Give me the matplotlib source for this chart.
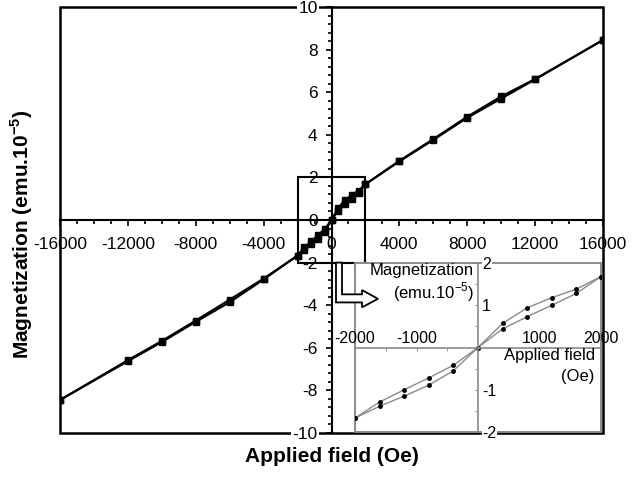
import matplotlib
matplotlib.use("Agg")
import matplotlib.pyplot as plt
import matplotlib.ticker as mticker
from matplotlib.patches import Rectangle, Polygon

plt.rcParams['font.family'] = ['Liberation Sans', 'DejaVu Sans']
plt.rcParams['mathtext.fontset'] = 'custom'
plt.rcParams['mathtext.rm'] = 'Liberation Sans'
plt.rcParams['mathtext.bf'] = 'Liberation Sans:bold'

# champ appliqué (Oe) et aimantation (emu.10^-5)
field_neg = [-16000, -12000, -10000, -8000, -6000, -4000]
field_pos = [4000, 6000, 8000, 10000, 12000, 16000]
field_low = [-2000, -1600, -1200, -800, -400, 0, 400, 800, 1200, 1600, 2000]

m_neg_up = [-8.45, -6.58, -5.68, -4.72, -3.74, -2.75]
m_neg_down = [-8.45, -6.63, -5.73, -4.78, -3.86, -2.79]
m_pos_up = [2.78, 3.80, 4.85, 5.80, 6.62, 8.45]
m_pos_down = [2.75, 3.76, 4.80, 5.70, 6.60, 8.45]

m_low_up = [-1.67, -1.29, -1.00, -0.72, -0.42, 0.0, 0.57, 0.94, 1.18, 1.38, 1.68]
m_low_down = [-1.67, -1.39, -1.15, -0.89, -0.55, 0.0, 0.44, 0.73, 1.00, 1.28, 1.68]

xticks_main = list(range(-16000, 16001, 4000))
yticks_main = list(range(-10, 11, 2))
xticks_in = [-2000, -1000, 1000, 2000]
yticks_in = [-2, -1, 1, 2]

fig = plt.figure(figsize=(6.33, 4.79), dpi=100)
W, H = 633, 479

# axes principal
ax = fig.add_axes([60 / W, 1 - 433 / H, 543 / W, 426 / H])
ax.plot(field_neg + field_low + field_pos, m_neg_up + m_low_up + m_pos_up,
        color='black', lw=1.5, marker='s', ms=4.5, zorder=3)
ax.plot(field_neg + field_low + field_pos, m_neg_down + m_low_down + m_pos_down,
        color='black', lw=1.5, marker='s', ms=4.5, zorder=3)
ax.set_xlim(-16000, 16000)
ax.set_ylim(-10, 10)

ax.spines['left'].set_position(('data', 0))
ax.spines['bottom'].set_position(('data', 0))
ax.spines['top'].set_visible(False)
ax.spines['right'].set_visible(False)
for s in ['left', 'bottom']:
    ax.spines[s].set_linewidth(1.5)
ax.add_patch(Rectangle((0, 0), 1, 1, transform=ax.transAxes, fill=False,
                       lw=1.8, color='black', clip_on=False, zorder=1))

ax.set_xticks(xticks_main)
ax.set_xticklabels([str(v) for v in xticks_main])
ax.xaxis.set_minor_locator(mticker.MultipleLocator(1000))
ax.set_yticks(yticks_main)
ax.set_yticklabels([str(v) for v in yticks_main])
ax.yaxis.set_minor_locator(mticker.MultipleLocator(0.4))
ax.tick_params(axis='x', which='major', direction='out', length=4, width=1.2,
               pad=8, labelsize=12.5)
ax.tick_params(axis='x', which='minor', direction='out', length=3, width=1.2)
ax.tick_params(axis='y', which='major', direction='out', length=4, width=1.2,
               pad=6, labelsize=12.5)
ax.tick_params(axis='y', which='minor', direction='out', length=3, width=1.2)
for lbl in ax.get_yticklabels():
    if lbl.get_text() in ('10', '-10'):
        lbl.set_bbox(dict(facecolor='white', edgecolor='none', pad=1))

# cadre de zoom
ax.add_patch(Rectangle((field_low[0], -2), field_low[-1] - field_low[0], 4,
                       fill=False, lw=1.5, color='black', zorder=2))

fig.text(22 / W, 1 - 234 / H, 'Magnetization (emu.10$^{\\mathbf{-5}}$)',
         rotation=90, ha='center', va='center', fontsize=15, fontweight='bold')
fig.text(331.5 / W, 1 - 456 / H, 'Applied field (Oe)', ha='center',
         va='center', fontsize=15, fontweight='bold')

# encart
gray = '#8a8a8a'
axi = fig.add_axes([355 / W, 1 - 432 / H, 246 / W, 169 / H])
axi.set_facecolor('white')
axi.plot(field_low, m_low_up, color=gray, lw=1.0, marker='o', ms=2.5,
         mfc='black', mec='black')
axi.plot(field_low, m_low_down, color=gray, lw=1.0, marker='o', ms=2.5,
         mfc='black', mec='black')
axi.set_xlim(-2000, 2000)
axi.set_ylim(-2, 2)
axi.spines['top'].set_position(('data', 0))
axi.spines['right'].set_position(('data', 0))
axi.spines['bottom'].set_visible(False)
axi.spines['left'].set_visible(False)
for s in ['top', 'right']:
    axi.spines[s].set_color(gray)
    axi.spines[s].set_linewidth(1.2)
axi.add_patch(Rectangle((0, 0), 1, 1, transform=axi.transAxes, fill=False,
                        lw=1.4, color=gray, clip_on=False, zorder=1))
axi.xaxis.set_ticks_position('top')
axi.yaxis.set_ticks_position('right')
axi.set_xticks(xticks_in)
axi.set_xticklabels([str(v) for v in xticks_in])
axi.xaxis.set_minor_locator(mticker.MultipleLocator(500))
axi.set_yticks(yticks_in)
axi.set_yticklabels([str(v) for v in yticks_in])
axi.yaxis.set_minor_locator(mticker.MultipleLocator(0.5))
axi.tick_params(axis='both', which='both', direction='in', length=2,
                color=gray, labelsize=11.5)
axi.tick_params(axis='x', pad=1)
axi.tick_params(axis='y', pad=3)
for lbl in axi.get_yticklabels():
    if lbl.get_text() in ('2', '-2'):
        lbl.set_bbox(dict(facecolor='white', edgecolor='none', pad=0.5))

axi.text(0.484, 0.955, 'Magnetization', transform=axi.transAxes, ha='right',
         va='center', fontsize=12)
axi.text(0.484, 0.83, '(emu.10$^{-5}$)', transform=axi.transAxes, ha='right',
         va='center', fontsize=12)
axi.text(0.975, 0.45, 'Applied field', transform=axi.transAxes, ha='right',
         va='center', fontsize=12)
axi.text(0.975, 0.33, '(Oe)', transform=axi.transAxes, ha='right',
         va='center', fontsize=12)

# flèche creuse vers l'encart
arrow = Polygon([(265, -2.0), (265, -3.87), (1797, -3.87), (1797, -4.10),
                 (2740, -3.70), (1797, -3.29), (1797, -3.49), (619, -3.49),
                 (619, -2.0)], closed=True, facecolor='white',
                edgecolor='black', lw=1.3, transform=ax.transData, zorder=5)
fig.add_artist(arrow)

fig.savefig('out.png', dpi=100)
